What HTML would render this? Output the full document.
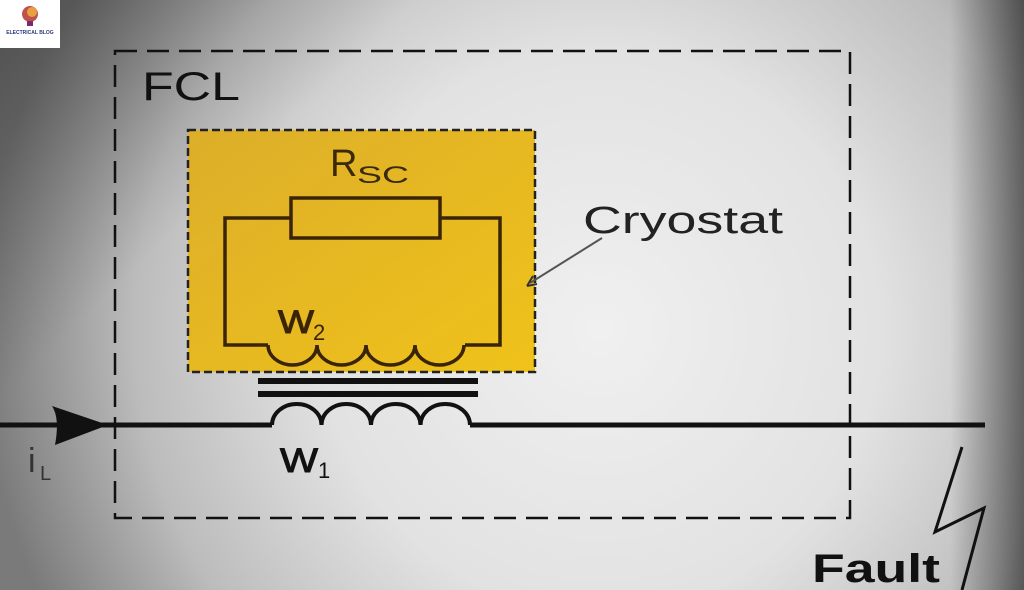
<!DOCTYPE html>
<html><head><meta charset="utf-8"><style>
html,body{margin:0;padding:0;width:1024px;height:590px;overflow:hidden;background:#ccc}
svg{display:block}
text{font-family:"Liberation Sans",sans-serif}
</style></head><body>
<svg width="1024" height="590" viewBox="0 0 1024 590" xmlns="http://www.w3.org/2000/svg">
<defs>
<radialGradient id="bg" cx="600" cy="330" r="620" gradientUnits="userSpaceOnUse">
<stop offset="0" stop-color="#f0f0f0"/>
<stop offset="0.45" stop-color="#e2e2e2"/>
<stop offset="0.75" stop-color="#bcbcbc"/>
<stop offset="1" stop-color="#7a7a7a"/>
</radialGradient>
<linearGradient id="yel" x1="0" y1="0" x2="1" y2="1">
<stop offset="0" stop-color="#dcae2a"/>
<stop offset="1" stop-color="#f0c21a"/>
</linearGradient>
<linearGradient id="redge" x1="0" x2="1">
<stop offset="0" stop-color="#000" stop-opacity="0"/>
<stop offset="1" stop-color="#000" stop-opacity="0.5"/>
</linearGradient>
<linearGradient id="ledge" x1="0" y1="0" x2="1" y2="0.6">
<stop offset="0" stop-color="#000" stop-opacity="0.35"/>
<stop offset="0.3" stop-color="#000" stop-opacity="0"/>
</linearGradient>
</defs>
<rect width="1024" height="590" fill="url(#bg)"/>
<rect width="1024" height="590" fill="url(#ledge)"/>
<rect x="950" y="0" width="74" height="590" fill="url(#redge)"/>

<!-- logo -->
<rect x="0" y="0" width="60" height="48" fill="#fff"/>
<circle cx="30" cy="14" r="8" fill="#c0504d"/>
<circle cx="32" cy="12" r="5" fill="#e8a040"/>
<rect x="27" y="21" width="6" height="5" fill="#7a2a6a"/>
<text x="30" y="34" font-size="5" font-weight="bold" fill="#2a3a7a" text-anchor="middle">ELECTRICAL BLOG</text>

<rect x="115" y="51" width="735" height="467" fill="none" stroke="#111" stroke-width="2.5" stroke-dasharray="22,10"/>
<text x="142" y="100" font-size="40" fill="#111" textLength="98" lengthAdjust="spacingAndGlyphs">FCL</text>

<rect x="188" y="130" width="347" height="242" fill="url(#yel)" stroke="#222" stroke-width="2.5" stroke-dasharray="8,4"/>

<text x="330" y="176" font-size="38" fill="#3a2a0a">R</text>
<text x="357" y="183" font-size="24" fill="#3a2a0a" textLength="52" lengthAdjust="spacingAndGlyphs">SC</text>
<rect x="291" y="198" width="149" height="40" fill="none" stroke="#3a2408" stroke-width="3.5"/>
<path d="M291 218 H225 V345 H268 M440 218 H500 V345 H465" fill="none" stroke="#3a2408" stroke-width="3.5"/>
<path d="M268 345 a24.5 20 0 0 0 49 0 a24.5 20 0 0 0 49 0 a24.5 20 0 0 0 49 0 a24.5 20 0 0 0 49 0" fill="none" stroke="#3a2408" stroke-width="3.5"/>
<text x="278" y="333" font-size="32" fill="#3a2408" stroke="#3a2408" stroke-width="1" textLength="36" lengthAdjust="spacingAndGlyphs">W</text>
<text x="313" y="340" font-size="22" fill="#3a2408">2</text>

<rect x="258" y="378" width="220" height="6" fill="#111"/>
<rect x="258" y="391" width="220" height="6" fill="#111"/>

<path d="M0 425 H272 M470 425 H985" stroke="#111" stroke-width="5" fill="none"/>
<path d="M272 425 a24.75 21 0 0 1 49.5 0 a24.75 21 0 0 1 49.5 0 a24.75 21 0 0 1 49.5 0 a24.75 21 0 0 1 49.5 0" fill="none" stroke="#111" stroke-width="4"/>
<path d="M52 406 Q60 418 55 445 L108 425 Z" fill="#111"/>
<text x="280" y="472" font-size="34" fill="#111" stroke="#111" stroke-width="1" textLength="38" lengthAdjust="spacingAndGlyphs">W</text>
<text x="318" y="478" font-size="22" fill="#111">1</text>
<text x="28" y="472" font-size="34" fill="#333">i</text>
<text x="40" y="480" font-size="20" fill="#333">L</text>

<text x="583" y="233" font-size="38" fill="#222" textLength="200" lengthAdjust="spacingAndGlyphs">Cryostat</text>
<path d="M602 238 L530 283" stroke="#555" stroke-width="2" fill="none"/>
<path d="M527 286 L533 276 M527 286 L537 284" stroke="#333" stroke-width="2" fill="none"/>

<text x="812" y="582" font-size="40" font-weight="bold" fill="#111" textLength="128" lengthAdjust="spacingAndGlyphs">Fault</text>
<path d="M962 447 L935 532 L984 508 L962 590" fill="none" stroke="#111" stroke-width="3"/>
</svg>
</body></html>
